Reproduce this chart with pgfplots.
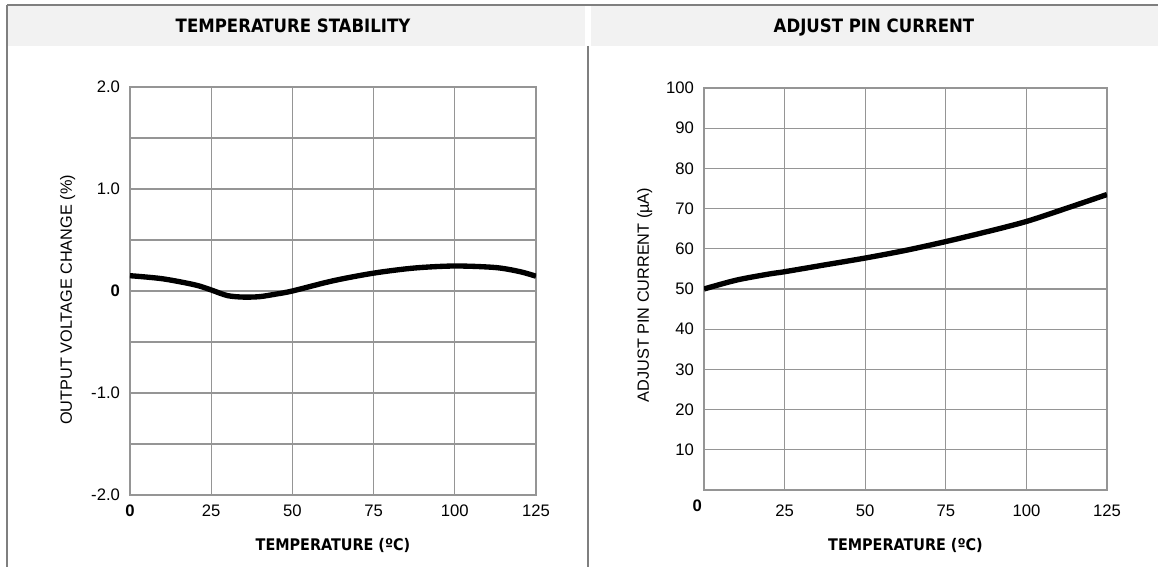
\documentclass[border=0pt]{standalone}
\usepackage{fontspec}
\setmainfont{Liberation Sans}
\newfontfamily\condfont{DejaVu Sans Condensed}
\usepackage{pgfplots}
\pgfplotsset{compat=1.18}

\definecolor{framegray}{HTML}{7F7F7F}
\definecolor{headgray}{HTML}{F2F2F2}
\definecolor{gridgray}{HTML}{959595}

\pgfplotsset{
  panel/.style={
    anchor=south west,
    scale only axis,
    xmin=0, xmax=125,
    grid=major,
    major grid style={gridgray, line width=0.8pt},
    axis line style={gridgray, line width=0.8pt},
    major tick length=0pt,
    tick label style={font=\fontsize{12.5}{14}\selectfont},
    xticklabel style={yshift=-4pt},
    yticklabel style={xshift=-4pt},
    xlabel style={font=\condfont\bfseries\fontsize{12}{14}\selectfont},
    ylabel style={font=\fontsize{12.2}{14}\selectfont},
  },
}

\begin{document}
\begin{tikzpicture}[x=0.75pt, y=0.75pt]
\path[use as bounding box] (0,0) rectangle (1158,567);
\fill[headgray] (7,521) rectangle (585,561);
\fill[headgray] (591,521) rectangle (1158,561);
\draw[framegray, line width=1.1pt] (7,562) -- (1158,562);
\draw[framegray, line width=1.1pt] (7,562) -- (7,0);
\draw[framegray, line width=1.1pt] (588,521) -- (588,0);
\node[anchor=base] at (293,534) {\condfont\bfseries\fontsize{13.8}{16}\selectfont TEMPERATURE STABILITY};
\node[anchor=base] at (874,534) {\condfont\bfseries\fontsize{13.8}{16}\selectfont ADJUST PIN CURRENT};

% temperature stability
\begin{axis}[panel,
  at={(97.5pt,54pt)}, width=304.5pt, height=306pt,
  ymin=-2, ymax=2,
  xtick={0,25,50,75,100,125},
  xticklabels={\textbf{0},25,50,75,100,125},
  ytick={-2,-1.5,-1,-0.5,0,0.5,1,1.5,2},
  yticklabels={-2.0,,-1.0,,\textbf{0},,1.0,,2.0},
  xlabel={TEMPERATURE (ºC)},
  ylabel={OUTPUT VOLTAGE CHANGE (\%)},
  xlabel style={at={(axis description cs:0.5,0)}, anchor=base, yshift=-42pt},
  ylabel style={at={(axis description cs:-0.123,0.478)}, anchor=south},
]
\addplot[black, line width=4pt, smooth] coordinates {
  (0,0.15) (10,0.12) (20,0.06) (25,0.01) (30,-0.045) (35,-0.06)
  (40,-0.055) (45,-0.03) (50,0.0) (62.5,0.1) (75,0.175) (87.5,0.225)
  (100,0.245) (112.5,0.23) (120,0.19) (125,0.145)
};
\end{axis}

% adjust pin current
\begin{axis}[panel,
  at={(528pt,57.75pt)}, width=302.25pt, height=301.5pt,
  ymin=0, ymax=100,
  xtick={25,50,75,100,125},
  xticklabels={25,50,75,100,125},
  xticklabel style={yshift=-3.5pt},
  extra x ticks={0},
  extra x tick labels={\textbf{0}},
  extra x tick style={xticklabel style={xshift=-5pt, yshift=3.5pt}},
  ytick={10,20,30,40,50,60,70,80,90,100},
  yticklabels={10,20,30,40,50,60,70,80,90,100},
  xlabel={TEMPERATURE (ºC)},
  ylabel={ADJUST PIN CURRENT (µA)},
  xlabel style={at={(axis description cs:0.5,0)}, anchor=base, yshift=-45.75pt},
  ylabel style={at={(axis description cs:-0.1166,0.485)}, anchor=south},
]
\addplot[black, line width=4pt, smooth] coordinates {
  (0,50) (10,52.2) (20,53.7) (25,54.3) (37.5,56) (50,57.7) (62.5,59.6)
  (75,61.8) (87.5,64.2) (100,66.8) (112.5,70.1) (125,73.5)
};
\end{axis}
\end{tikzpicture}
\end{document}
